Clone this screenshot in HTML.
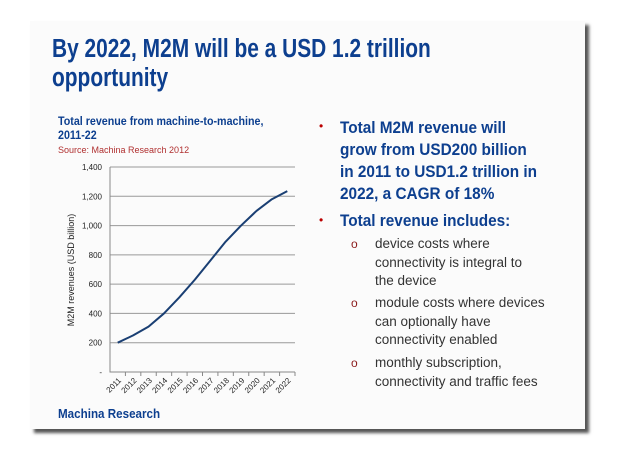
<!DOCTYPE html>
<html><head><meta charset="utf-8"><style>
body{margin:0;width:620px;height:450px;background:#fff;position:relative;overflow:hidden;font-family:"Liberation Sans",sans-serif}
.slide{position:absolute;left:30px;top:21px;width:555px;height:408px;background:#fbfbfb;box-shadow:4px 4px 3px #555}
.t{position:absolute;color:#0d3f8f;font-weight:bold;white-space:nowrap;transform-origin:left top}
.b{position:absolute;color:#0d3f8f;font-weight:bold;font-size:16.5px;line-height:22px;left:340px;top:117px;white-space:nowrap;transform:scaleX(0.93);transform-origin:left top}
.s{position:absolute;color:#333;font-size:13.5px;line-height:18.5px;left:375px;white-space:nowrap;transform:scaleX(1.0);transform-origin:left top}
.o{position:absolute;color:#8b1a1a;font-size:12px;left:351px}
.d{position:absolute;color:#b00;font-size:12px;left:319px}
</style></head><body>
<div class="slide"></div>
<div class="t" style="left:52px;top:35px;font-size:25.5px;line-height:29px;transform:scaleX(0.82)">By 2022, M2M will be a USD 1.2 trillion<br>opportunity</div>
<div class="t" style="left:58px;top:115px;font-size:11.5px;line-height:14px;transform:scaleX(0.93)">Total revenue from machine-to-machine,<br>2011-22</div>
<div style="position:absolute;left:58px;top:145px;font-size:9px;color:#b03030">Source: Machina Research 2012</div>
<div class="t" style="left:58px;top:407px;font-size:12.5px;transform:scaleX(0.93)">Machina Research</div>
<div class="d" style="top:119px">•</div>
<div class="d" style="top:213px">•</div>
<div class="b">Total M2M revenue will<br>grow from USD200 billion<br>in 2011 to USD1.2 trillion in<br>2022, a CAGR of 18%<div style="margin-top:5px">Total revenue includes:</div></div>
<div class="o" style="top:237px">o</div>
<div class="s" style="top:235px">device costs where<br>connectivity is integral to<br>the device</div>
<div class="o" style="top:296px">o</div>
<div class="s" style="top:294px">module costs where devices<br>can optionally have<br>connectivity enabled</div>
<div class="o" style="top:356px">o</div>
<div class="s" style="top:354px">monthly subscription,<br>connectivity and traffic fees</div>
<svg id="c" width="620" height="450" style="position:absolute;left:0;top:0"></svg>
<script>
const categories=["2011","2012","2013","2014","2015","2016","2017","2018","2019","2020","2021","2022"];
const revenue=[200,250,310,400,510,630,760,890,1000,1100,1180,1235];
const yTicks=[0,200,400,600,800,1000,1200,1400];
const yTickLabels=["-","200","400","600","800","1,000","1,200","1,400"];
const svg=document.getElementById('c');const NS="http://www.w3.org/2000/svg";
const L=110,R=295,T=167,B=372;
const y=v=>B-(v/1400)*(B-T);
const bw=(R-L)/categories.length;
const x=i=>L+bw*(i+0.5);
function mk(t,a,p){const e=document.createElementNS(NS,t);for(const k in a)e.setAttribute(k,a[k]);(p||svg).appendChild(e);return e;}
yTicks.forEach((v,i)=>{
 if(v>0){const g=mk('line',{x1:L,x2:R,y1:y(v),y2:y(v),stroke:'#999','stroke-width':1});
 
 }
 const t=mk('text',{x:L-8,y:y(v)+3,'text-anchor':'end','font-size':8,fill:'#222','font-family':'Liberation Sans'});t.textContent=yTickLabels[i];
 
 
});
const ax=mk('path',{d:`M${L} ${T}V${B}H${R}`,stroke:'#888',fill:'none'});


categories.forEach((c,i)=>{
 const tk=mk('line',{x1:L+bw*(i+1),x2:L+bw*(i+1),y1:B,y2:B+4,stroke:'#888'});
 
 
 const t=mk('text',{transform:`translate(${x(i)+4},${B+9}) rotate(-45)`,'text-anchor':'end','font-size':8,fill:'#222','font-family':'Liberation Sans'});t.textContent=c;
 
 
});
const yl=mk('text',{transform:`translate(74,270) rotate(-90)`,'text-anchor':'middle','font-size':9,fill:'#222','font-family':'Liberation Sans'});yl.textContent="M2M revenues (USD billion)";


const ln=mk('path',{d:revenue.map((v,i)=>(i?'L':'M')+x(i)+' '+y(v)).join(''),stroke:'#1a3f73','stroke-width':2,fill:'none','stroke-linejoin':'round'});


</script>
</body></html>
